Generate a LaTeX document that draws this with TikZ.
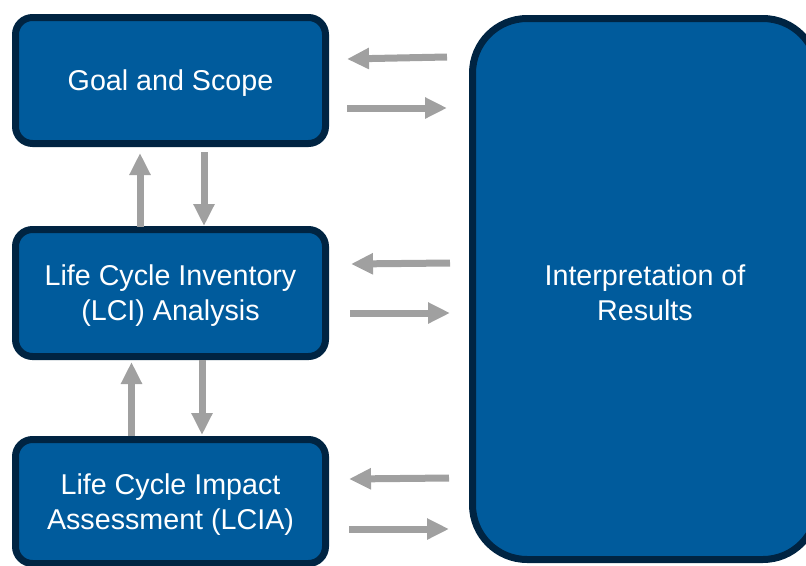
\documentclass[tikz,border=0pt]{standalone}
\usepackage{fontspec}
\setmainfont{Liberation Sans}
\usetikzlibrary{arrows.meta}
\definecolor{boxfill}{RGB}{0,91,156}
\definecolor{boxline}{RGB}{0,36,66}
\definecolor{arrowgray}{RGB}{160,160,160}
\begin{document}
\begin{tikzpicture}[x=0.75pt,y=-0.75pt,
  stagebox/.style={draw=boxline, fill=boxfill, line width=5.25pt, rounded corners=12.75pt,
    text=white, align=center, font=\fontsize{21.5}{26.25}\selectfont, inner sep=0pt, text depth=0pt},
  flow/.style={draw=arrowgray, line width=5.25pt, -{Triangle[width=15pt,length=16.5pt]}}]
\useasboundingbox (0,0) rectangle (806,565);
\clip (0,0) rectangle (806,565);
\node[stagebox, minimum width=232.5pt, minimum height=94.5pt] (goal) at (170.5,80.5) {Goal and Scope};
\node[stagebox, minimum width=232.5pt, minimum height=95.25pt] (lci) at (170.5,293) {Life Cycle Inventory\\(LCI) Analysis};
\node[stagebox, minimum width=232.5pt, minimum height=93pt] (lcia) at (170.5,501.5) {Life Cycle Impact\\Assessment (LCIA)};
\node[stagebox, minimum width=258.75pt, minimum height=405.75pt, rounded corners=41pt] (interp) at (645,289) {\rule{0pt}{21.5pt}Interpretation of\\Results};
% horizontal arrow ends
\coordinate (a1s) at (447,57);  \coordinate (a1e) at (347,59);
\coordinate (a2s) at (347,108); \coordinate (a2e) at (447,108);
\coordinate (a3s) at (450,263); \coordinate (a3e) at (351,264);
\coordinate (a4s) at (350,313); \coordinate (a4e) at (450,313);
\coordinate (a5s) at (449,478); \coordinate (a5e) at (349,479);
\coordinate (a6s) at (349,529); \coordinate (a6e) at (449,529);
% vertical arrow ends
\coordinate (v1s) at (140,227); \coordinate (v1e) at (140,153);
\coordinate (v2s) at (204,152); \coordinate (v2e) at (204,226);
\coordinate (v3s) at (131.5,436); \coordinate (v3e) at (131.5,362);
\coordinate (v4s) at (202,360); \coordinate (v4e) at (202,435);
\foreach \a in {a1,a2,a3,a4,a5,a6,v1,v2,v3,v4}
  \draw[flow] (\a s) -- (\a e);
\end{tikzpicture}
\end{document}
